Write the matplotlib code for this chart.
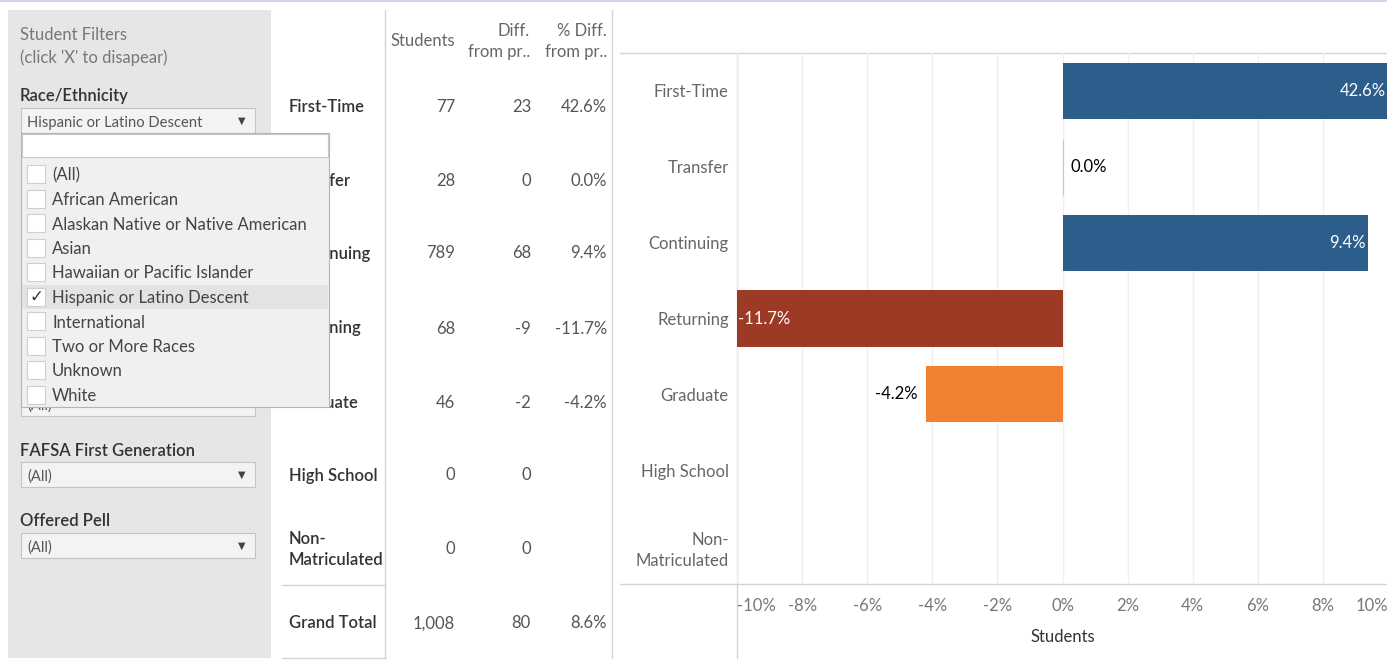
import matplotlib.pyplot as plt
from matplotlib.patches import Rectangle
import numpy as np

plt.rcParams['font.family'] = ['Lato', 'DejaVu Sans']

# data
categories = ["First-Time", "Transfer", "Continuing", "Returning", "Graduate",
              "High School", "Non-\nMatriculated"]
students = ["77", "28", "789", "68", "46", "0", "0"]
diff_prev = ["23", "0", "68", "-9", "-2", "0", "0"]
pct_diff = [42.6, 0.0, 9.4, -11.7, -4.2, None, None]
grand_total = ["1,008", "80", "8.6%"]
bar_colors = ["#2c5d8b", "#2c5d8b", "#2c5d8b", "#9d3a25", "#ef8130", None, None]

race_options = ["(All)", "African American", "Alaskan Native or Native American", "Asian",
                "Hawaiian or Pacific Islander", "Hispanic or Latino Descent", "International",
                "Two or More Races", "Unknown", "White"]
selected_race = "Hispanic or Latino Descent"

W, H = 1387, 664
fig = plt.figure(figsize=(W / 100, H / 100), dpi=100)
bg = fig.add_axes([0, 0, 1, 1])
bg.set_xlim(0, W); bg.set_ylim(H, 0); bg.axis('off')

grey_txt = '#777777'
dark_txt = '#333333'
line_c = '#d4d4d4'
FS = 12
dy = 1.5  # small nudge so text sits like the reference

# thin lavender rule at the very top
bg.plot([0, W], [0.8, 0.8], color='#ddd0ea', lw=1.5)

# ---- filter panel ----
bg.add_patch(Rectangle((8, 10), 263, 648, facecolor='#e6e6e6', edgecolor='none', zorder=1))
bg.text(20, 34 + dy, "Student Filters", fontsize=FS, color=grey_txt, va='center')
bg.text(20, 56 + dy, "(click 'X' to disapear)", fontsize=FS, color=grey_txt, va='center')


def dropdown(y0, label, z=2):
    bg.add_patch(Rectangle((21, y0), 234, 25, facecolor='#f3f3f3', edgecolor='#c4c4c4',
                           lw=0.8, zorder=z))
    bg.text(27, y0 + 13 + dy, label, fontsize=10.6, color='#555555', va='center', zorder=z + 0.1)
    bg.text(242, y0 + 13, "\u25BC", fontsize=7, color='#444444', va='center', ha='center',
            family='DejaVu Sans', zorder=z + 0.1)


bg.text(20, 95 + dy, "Race/Ethnicity", fontsize=FS, color=dark_txt, va='center',
        fontweight='semibold')
dropdown(108, selected_race)
dropdown(391, "(All)")
bg.text(20, 449 + dy, "FAFSA First Generation", fontsize=FS, color=dark_txt, va='center',
        fontweight='semibold')
dropdown(462, "(All)")
bg.text(20, 520 + dy, "Offered Pell", fontsize=FS, color=dark_txt, va='center',
        fontweight='semibold')
dropdown(533, "(All)")

# ---- table ----
row_y = [105, 179, 252, 327, 401, 474, 548]
for lab, s, d, p, y in zip(categories, students, diff_prev, pct_diff, row_y):
    y = y + dy
    bg.text(289, y, lab, fontsize=FS, color=dark_txt, va='center', fontweight='semibold',
            linespacing=1.45, zorder=3)
    bg.text(455, y, s, fontsize=FS, color='#555555', va='center', ha='right')
    bg.text(531, y, d, fontsize=FS, color='#555555', va='center', ha='right')
    if p is not None:
        bg.text(607, y, f"{p:.1f}%", fontsize=FS, color='#555555', va='center', ha='right')
bg.text(289, 622 + dy, "Grand Total", fontsize=FS, color=dark_txt, va='center',
        fontweight='semibold')
for x, v in zip([455, 531, 607], grand_total):
    bg.text(x, 622 + dy, v, fontsize=FS, color='#555555', va='center', ha='right')

bg.text(455, 40 + dy, "Students", fontsize=FS, color='#666666', va='center', ha='right')
bg.text(530, 40 + dy, "Diff.\nfrom pr..", fontsize=FS, color='#666666', va='center', ha='right',
        linespacing=1.35)
bg.text(607, 40 + dy, "% Diff.\nfrom pr..", fontsize=FS, color='#666666', va='center',
        ha='right', linespacing=1.35)

bg.plot([385, 385], [10, 658], color=line_c, lw=1)
bg.plot([612, 612], [10, 658], color=line_c, lw=1)
bg.plot([282, 385], [585, 585], color=line_c, lw=1)
bg.plot([282, 385], [658, 658], color=line_c, lw=1)

# ---- open dropdown list (drawn on top) ----
bg.add_patch(Rectangle((21, 133), 308, 274, facecolor='#f0f0f0', edgecolor='#b4b4b4',
                       lw=0.8, zorder=5))
bg.add_patch(Rectangle((22, 134), 306, 23, facecolor='white', edgecolor='#c8c8c8',
                       lw=0.8, zorder=5.1))
for i, opt in enumerate(race_options):
    y = 174 + i * 24.5
    if opt == selected_race:
        bg.add_patch(Rectangle((22, y - 12), 306, 24, facecolor='#e3e3e3', edgecolor='none',
                               zorder=5.2))
    bg.add_patch(Rectangle((27, y - 9), 18, 18, facecolor='white', edgecolor='#cfcfcf',
                           lw=0.8, zorder=5.3))
    if opt == selected_race:
        bg.text(36, y, "\u2713", fontsize=12, color='#333333', ha='center', va='center',
                family='DejaVu Sans', zorder=5.4)
    bg.text(52, y + dy, opt, fontsize=FS, color='#444444', va='center', zorder=5.4)

# ---- bar chart ----
x0, x1, y_top, y_bot = 737, 1388, 53, 584
ax = fig.add_axes([x0 / W, 1 - y_bot / H, (x1 - x0) / W, (y_bot - y_top) / H])
ax.set_facecolor('none')
ax.set_xlim(-10, 10)
ax.set_ylim(len(categories) - 0.5, -0.5)
ypos = np.arange(len(categories))
for y, v, c in zip(ypos, pct_diff, bar_colors):
    if v is None:
        continue
    ax.barh(y, v, height=0.74, color=c, edgecolor='#c8c8c8' if v == 0 else 'none',
            lw=0.8, zorder=3)
    lab = f"{v:.1f}%"
    if v == 0:
        ax.text(0.25, y, lab, fontsize=FS, color='black', va='center', ha='left')
    elif abs(v) > 6:
        if v > 0:
            ax.text(min(v, 10) - 0.08, y, lab, fontsize=FS, color='white',
                    va='center', ha='right', zorder=4)
        else:
            ax.text(max(v, -10) + 0.03, y, lab, fontsize=FS, color='white',
                    va='center', ha='left', zorder=4)
    else:
        if v > 0:
            ax.text(v + 0.25, y, lab, fontsize=FS, color='black', va='center', ha='left')
        else:
            ax.text(v - 0.25, y, lab, fontsize=FS, color='black', va='center', ha='right')

ticks = np.arange(-10, 11, 2)
ax.set_xticks(ticks)
ax.set_xticklabels([f"{t}%" for t in ticks])
tl = ax.get_xticklabels()
tl[0].set_ha('left'); tl[-1].set_ha('right')
ax.set_yticks(ypos)
ax.set_yticklabels(categories)
ax.tick_params(axis='x', length=0, pad=10, labelsize=FS, labelcolor=grey_txt)
ax.tick_params(axis='y', length=0, pad=6, labelsize=FS, labelcolor='#666666')
for t in ax.get_yticklabels():
    t.set_linespacing(1.4)
ax.grid(axis='x', color='#efefef', lw=1)
ax.set_axisbelow(True)
for s in ax.spines.values():
    s.set_visible(False)
ax.set_xlabel("Students", fontsize=FS, color=dark_txt, labelpad=11)

bg.plot([620, W], [y_top, y_top], color=line_c, lw=1)
bg.plot([620, W], [y_bot, y_bot], color=line_c, lw=1)
bg.plot([x0, x0], [y_top, 658], color=line_c, lw=1)

fig.savefig('out.png', dpi=100)
